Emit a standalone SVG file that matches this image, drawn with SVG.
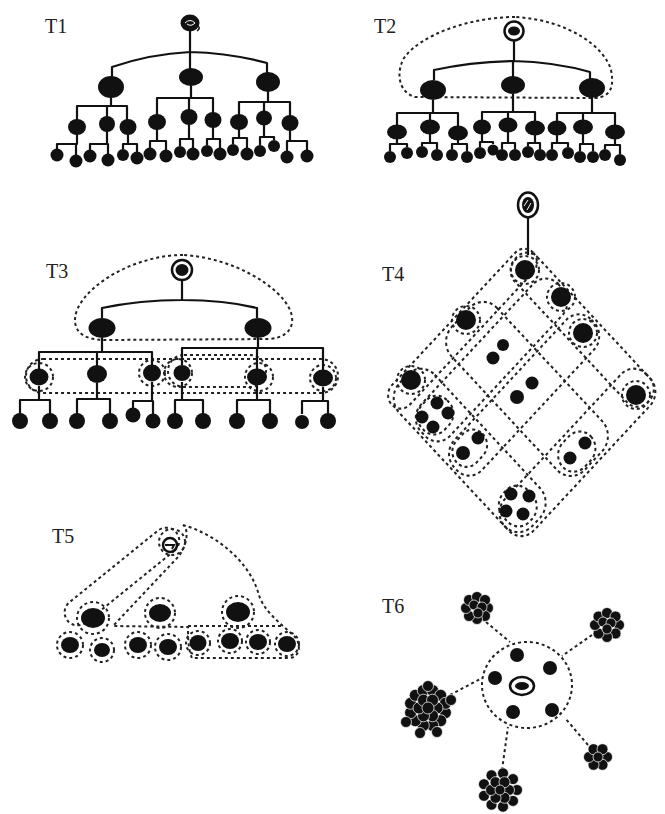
<svg xmlns="http://www.w3.org/2000/svg" width="665" height="814" viewBox="0 0 665 814">
<style>
.lbl{font-family:"Liberation Serif","Times New Roman",serif;font-size:20px;fill:#222}
.e{stroke:#111;stroke-width:2.2;fill:none;stroke-linejoin:round}
.d{stroke:#222;stroke-width:2;fill:none;stroke-dasharray:3 3}
.n{fill:#111}
.ring{fill:#fff;stroke:#111;stroke-width:2.5}
.cl circle{fill:#111;stroke:#fff;stroke-width:0.7}
</style>
<rect width="665" height="814" fill="#fff"/>

<!-- labels -->
<g id="labels">
<text class="lbl" x="45" y="33">T1</text>
<text class="lbl" x="374" y="33">T2</text>
<text class="lbl" x="46" y="278">T3</text>
<text class="lbl" x="382" y="281">T4</text>
<text class="lbl" x="52" y="543">T5</text>
<text class="lbl" x="382" y="613">T6</text>
</g>

<!-- ===== T1 ===== -->
<g id="t1-connectors" class="e">
<path d="M190,31 V52 M112,79 V67 Q150,54 190,52 Q230,53 267,63 V74 M190,52 V70"/>
<path d="M111,97 V106 M77,120 V106 H127 V120 M107,106 V117"/>
<path d="M191,85 V98 M157,115 V98 H213 V113 M189,98 V110"/>
<path d="M268,91 V102 M239,115 V102 H290 V116 M264,102 V111"/>
<path d="M77,134 V144 H57 V149 M76,144 V155 M107,131 V144 M90,150 V144 H108 V154 M128,134 V144 M123,149 V144 H137 V152 M157,129 V141 M150,148 V141 H166 V150 M189,124 V139 M180,146 V139 H193 V148 M213,127 V139 M207,145 V139 H220 V148 M239,129 V138 M233,144 V138 H247 V148 M264,125 V137 M260,145 V137 H274 V140 M290,130 V141 M287,151 V141 H307 V150"/>
</g>
<g id="t1-root"><ellipse cx="190" cy="23" rx="9.5" ry="8.5" class="n"/><path d="M185,23 q5,-5 10,0 q-4,4 -8,1" stroke="#fff" stroke-width="1" fill="none"/><path d="M198,26 q3,2 -1,5" stroke="#111" stroke-width="1.5" fill="none"/></g>
<g id="t1-l1" class="n"><ellipse id="t1-a" cx="111" cy="87" rx="13" ry="11"/><ellipse id="t1-b" cx="191" cy="77" rx="12" ry="9"/><ellipse id="t1-c" cx="268" cy="82" rx="12" ry="10"/></g>
<g id="t1-l2" class="n"><ellipse cx="77" cy="127" rx="9" ry="8"/><ellipse cx="107" cy="124" rx="8" ry="8"/><ellipse cx="128" cy="127" rx="8.5" ry="8"/><ellipse cx="157" cy="122" rx="9" ry="8"/><ellipse cx="189" cy="117" rx="8.5" ry="8"/><ellipse cx="213" cy="120" rx="8.5" ry="8"/><ellipse cx="239" cy="122" rx="9" ry="8"/><ellipse cx="264" cy="118" rx="8" ry="7.5"/><ellipse cx="290" cy="123" rx="8.5" ry="8"/></g>
<g id="t1-leaves" class="n"><circle cx="57" cy="155" r="6.5"/><circle cx="76" cy="161" r="6.5"/><circle cx="90" cy="156" r="6.5"/><circle cx="108" cy="160" r="6.5"/><circle cx="123" cy="155" r="6"/><circle cx="137" cy="158" r="6.5"/><circle cx="150" cy="154" r="6.5"/><circle cx="166" cy="156" r="6.5"/><circle cx="180" cy="152" r="6"/><circle cx="193" cy="154" r="6.5"/><circle cx="207" cy="151" r="6"/><circle cx="220" cy="154" r="6.5"/><circle cx="233" cy="150" r="6"/><circle cx="247" cy="154" r="6.5"/><circle cx="260" cy="151" r="6"/><circle cx="274" cy="146" r="6"/><circle cx="287" cy="157" r="6.5"/><circle cx="307" cy="156" r="6.5"/></g>

<!-- ===== T2 ===== -->
<g id="t2-connectors">
<path class="d" d="M515,17 C470,17 420,35 404,58 C396,72 398,92 415,97 L595,98 C612,97 614,85 611,70 C605,48 570,20 515,17 Z"/>
<g class="e">
<path d="M514,41 V61 M434,80 V70 Q470,62 513,61 Q555,62 590,72 V80 M513,61 V77"/>
<path d="M433,100 V113 M397,125 V113 H458 V126 M430,113 V120"/>
<path d="M513,94 V112 M482,120 V112 H535 V121 M508,112 V118"/>
<path d="M592,98 V113 M557,121 V113 H615 V125 M583,113 V120"/>
<path d="M397,139 V144 M390,151 V144 H407 V147 M430,134 V143 M422,146 V143 H437 V149 M458,140 V144 M452,149 V144 H467 V151 M482,134 V142 M480,147 V142 H493 V144 M508,132 V143 M502,149 V143 H515 V149 M535,135 V143 M528,146 V143 H540 V149 M557,135 V143 M552,149 V143 H568 V147 M583,134 V144 M580,151 V144 H593 V151 M615,139 V145 M605,149 V145 H620 V154"/>
</g>
</g>
<g id="t2-root"><circle cx="514" cy="31" r="9.5" class="ring"/><ellipse cx="514" cy="31" rx="6" ry="4.5" class="n"/></g>
<g id="t2-l1" class="n"><ellipse cx="433" cy="90" rx="13" ry="10"/><ellipse cx="513" cy="85" rx="12" ry="9"/><ellipse cx="592" cy="88" rx="13" ry="10"/></g>
<g id="t2-l2" class="n"><ellipse cx="397" cy="132" rx="10" ry="7.5"/><ellipse cx="430" cy="127" rx="10" ry="7.5"/><ellipse cx="458" cy="133" rx="10" ry="7.5"/><ellipse cx="482" cy="127" rx="9" ry="7.5"/><ellipse cx="508" cy="125" rx="9.5" ry="7.5"/><ellipse cx="535" cy="128" rx="10" ry="7.5"/><ellipse cx="557" cy="128" rx="9.5" ry="7.5"/><ellipse cx="583" cy="127" rx="10" ry="7.5"/><ellipse cx="615" cy="132" rx="10" ry="7.5"/></g>
<g id="t2-leaves" class="n"><circle cx="390" cy="157" r="6"/><circle cx="407" cy="153" r="6"/><circle cx="422" cy="152" r="6"/><circle cx="437" cy="155" r="6"/><circle cx="452" cy="155" r="6"/><circle cx="467" cy="157" r="6"/><circle cx="480" cy="153" r="6"/><circle cx="493" cy="150" r="5.5"/><circle cx="502" cy="155" r="6"/><circle cx="515" cy="155" r="6"/><circle cx="528" cy="152" r="6"/><circle cx="540" cy="155" r="6"/><circle cx="552" cy="155" r="6"/><circle cx="568" cy="153" r="6"/><circle cx="580" cy="157" r="6"/><circle cx="593" cy="157" r="6"/><circle cx="605" cy="155" r="6"/><circle cx="620" cy="160" r="6"/></g>

<!-- ===== T3 ===== -->
<g id="t3-connectors">
<g class="d">
<path d="M183,255 C140,255 90,280 77,310 C70,330 82,340 105,340 L270,339 C290,337 296,324 290,310 C280,287 235,258 183,255 Z"/>
<rect x="26" y="359" width="312" height="34" rx="17"/>
<rect x="168" y="355" width="98" height="32" rx="16"/>
<circle cx="39" cy="377" r="14"/><circle cx="152" cy="373" r="13"/><circle cx="178" cy="373" r="14"/><circle cx="259" cy="377" r="14"/><circle cx="323" cy="378" r="13"/>
</g>
<g class="e">
<path d="M182,280 V300 M102,318 V308 Q140,300 182,300 Q225,300 257,308 V318"/>
<path d="M102,338 V352 M39,369 V352 H152 V365 M97,352 V366"/>
<path d="M258,338 V348 M182,365 V348 H323 V370 M257,348 V369"/>
<path d="M39,386 V400 M20,414 V400 H50 V414 M97,383 V399 M77,414 V399 H110 V414 M152,382 V401 M133,408 V401 H153 V414 M182,382 V400 M175,414 V400 H203 V414 M257,386 V400 M237,414 V400 H270 V414 M323,387 V401 M302,414 V401 H328 V414"/>
</g>
</g>
<g id="t3-root"><circle cx="182" cy="270" r="10" class="ring"/><ellipse cx="182" cy="270" rx="6.5" ry="6" class="n"/></g>
<g id="t3-l1" class="n"><ellipse cx="102" cy="328" rx="13.5" ry="10"/><ellipse cx="258" cy="328" rx="13.5" ry="10"/></g>
<g id="t3-l2" class="n"><ellipse cx="39" cy="377" rx="9.5" ry="8.5"/><ellipse cx="97" cy="374" rx="10" ry="9"/><ellipse cx="152" cy="373" rx="9" ry="8.5"/><ellipse cx="182" cy="373" rx="8.5" ry="8"/><ellipse cx="257" cy="377" rx="10" ry="8.5"/><ellipse cx="323" cy="378" rx="10" ry="8.5"/></g>
<g id="t3-leaves" class="n"><circle cx="20" cy="421" r="8"/><circle cx="50" cy="421" r="8"/><circle cx="77" cy="421" r="8"/><circle cx="110" cy="421" r="8"/><circle cx="133" cy="415" r="7.5"/><circle cx="153" cy="421" r="7.5"/><circle cx="175" cy="421" r="8"/><circle cx="203" cy="421" r="8"/><circle cx="237" cy="421" r="8"/><circle cx="270" cy="421" r="8"/><circle cx="302" cy="422" r="7"/><circle cx="328" cy="421" r="8"/></g>

<!-- ===== T4 ===== -->
<g id="t4-connectors">
<path class="e" d="M528,217 V255"/>
<g class="d" transform="matrix(0.6925 0.745 -0.7075 0.76 524.25 243)">
<rect x="0" y="0" width="26" height="200" rx="13"/>
<rect x="34" y="3" width="42" height="194" rx="18"/>
<rect x="82" y="3" width="40" height="194" rx="18"/>
<rect x="158" y="0" width="42" height="200" rx="18"/>
<rect x="4" y="0" width="192" height="32" rx="15"/>
<rect x="4" y="62" width="192" height="64" rx="20"/>
<rect x="4" y="150" width="192" height="50" rx="20"/>
<rect x="162" y="80" width="32" height="40" rx="16"/>
<rect x="35" y="158" width="33" height="36" rx="15"/>
<rect x="84" y="155" width="29" height="37" rx="14"/>
<rect x="153" y="160" width="38" height="35" rx="16"/>
</g>
<g class="d"><circle cx="525" cy="270" r="14"/><circle cx="561" cy="297" r="14"/><circle cx="583" cy="333" r="14"/><circle cx="636" cy="395" r="14"/><circle cx="466" cy="320" r="14"/><circle cx="411" cy="380" r="14"/></g>
</g>
<g id="t4-root"><ellipse cx="528" cy="205" rx="10" ry="12.5" class="ring"/><ellipse cx="528" cy="205" rx="6" ry="8" class="n"/><path d="M524,206 l4,-6 M527,210 l4,-7" stroke="#fff" stroke-width="1"/></g>
<g id="t4-singles" class="n"><circle cx="525" cy="270" r="10"/><circle cx="561" cy="297" r="10"/><circle cx="583" cy="333" r="10"/><circle cx="636" cy="395" r="10"/><circle cx="466" cy="320" r="10"/><circle cx="411" cy="380" r="10"/></g>
<g id="t4-groups" class="n">
<circle cx="493" cy="358" r="6.5"/><circle cx="503" cy="345" r="6"/>
<circle cx="517" cy="397" r="7"/><circle cx="532" cy="383" r="6.5"/>
<circle cx="570" cy="458" r="6.5"/><circle cx="585" cy="443" r="6.5"/>
<circle cx="463" cy="453" r="7"/><circle cx="478" cy="438" r="6.5"/>
<circle cx="437" cy="403" r="6.5"/><circle cx="422" cy="417" r="6.5"/><circle cx="448" cy="413" r="6.5"/><circle cx="433" cy="427" r="6.5"/>
<circle cx="511" cy="494" r="6.5"/><circle cx="529" cy="496" r="6.5"/><circle cx="506" cy="511" r="6.5"/><circle cx="523" cy="514" r="6.5"/>
</g>

<!-- ===== T5 ===== -->
<g id="t5-connectors" class="d">
<rect x="-12" y="-13" width="140" height="26" rx="13" transform="translate(167,540) rotate(141)"/>
<path d="M183,525 C215,534 248,560 258,592 C263,612 282,624 296,638 C302,648 298,657 290,658 L192,658 C188,650 188,635 188,627 L113,626 L178,557 C186,548 190,530 183,525 Z"/>
<path d="M188,626 L282,626"/>
<circle cx="172" cy="542" r="13"/>
<circle cx="93" cy="618" r="16"/><circle cx="160" cy="613" r="15"/><circle cx="238" cy="612" r="16"/>
<circle cx="70" cy="645" r="13"/><circle cx="102" cy="650" r="12"/><circle cx="138" cy="645" r="13"/><circle cx="168" cy="647" r="13"/><circle cx="198" cy="643" r="12"/><circle cx="230" cy="641" r="12"/><circle cx="258" cy="642" r="12"/><circle cx="287" cy="644" r="12"/>
</g>
<g id="t5-root"><circle cx="170" cy="545" r="7" fill="#fff" stroke="#111" stroke-width="2.5"/><path d="M165,545 h9 l-2,4" stroke="#111" stroke-width="2" fill="none"/></g>
<g id="t5-l1" class="n"><ellipse cx="93" cy="618" rx="12" ry="10"/><ellipse cx="160" cy="613" rx="11" ry="9"/><ellipse cx="238" cy="612" rx="12" ry="10"/></g>
<g id="t5-l2" class="n"><ellipse cx="70" cy="645" rx="9" ry="8"/><ellipse cx="102" cy="650" rx="8" ry="7"/><ellipse cx="138" cy="645" rx="9" ry="8"/><ellipse cx="168" cy="647" rx="9" ry="8"/><ellipse cx="198" cy="643" rx="8.5" ry="8"/><ellipse cx="230" cy="641" rx="9" ry="8"/><ellipse cx="258" cy="642" rx="9" ry="8"/><ellipse cx="287" cy="644" rx="9" ry="8"/></g>

<!-- ===== T6 ===== -->
<g id="t6-connectors" class="d">
<ellipse cx="527" cy="685" rx="45" ry="43"/>
<path d="M486,622 L510,642"/>
<path d="M592,635 L562,656"/>
<path d="M450,695 L482,678"/>
<path d="M588,745 L565,718"/>
<path d="M502,770 L508,727"/>
</g>
<g id="t6-center"><ellipse cx="522" cy="686" rx="12" ry="9" class="ring"/><ellipse cx="522" cy="686" rx="7" ry="4" class="n"/></g>
<g id="t6-inner" class="n"><circle cx="517" cy="655" r="7"/><circle cx="550" cy="668" r="7"/><circle cx="495" cy="678" r="7"/><circle cx="513" cy="712" r="7"/><circle cx="552" cy="710" r="7"/></g>
<g id="t6-cluster-tl" class="cl"><circle cx="488" cy="608" r="5.5"/><circle cx="485" cy="616" r="5.5"/><circle cx="477" cy="619" r="5.5"/><circle cx="469" cy="616" r="5.5"/><circle cx="466" cy="608" r="5.5"/><circle cx="469" cy="600" r="5.5"/><circle cx="477" cy="597" r="5.5"/><circle cx="485" cy="600" r="5.5"/><circle cx="474" cy="605" r="5"/><circle cx="482" cy="607" r="5"/><circle cx="478" cy="613" r="5"/></g>
<g id="t6-cluster-tr" class="cl"><circle cx="619" cy="625" r="5.5"/><circle cx="615.5" cy="633.5" r="5.5"/><circle cx="607" cy="637" r="5.5"/><circle cx="598.5" cy="633.5" r="5.5"/><circle cx="595" cy="625" r="5.5"/><circle cx="598.5" cy="616.5" r="5.5"/><circle cx="607" cy="613" r="5.5"/><circle cx="615.5" cy="616.5" r="5.5"/><circle cx="603" cy="622" r="5"/><circle cx="611" cy="623" r="5"/><circle cx="607" cy="629" r="5"/></g>
<g id="t6-cluster-l" class="cl"><circle cx="445.4" cy="712.7" r="6"/><circle cx="440.7" cy="720.7" r="6"/><circle cx="432.7" cy="725.4" r="6"/><circle cx="423.3" cy="725.4" r="6"/><circle cx="415.3" cy="720.7" r="6"/><circle cx="410.6" cy="712.7" r="6"/><circle cx="410.6" cy="703.3" r="6"/><circle cx="415.3" cy="695.3" r="6"/><circle cx="423.3" cy="690.6" r="6"/><circle cx="432.7" cy="690.6" r="6"/><circle cx="440.7" cy="695.3" r="6"/><circle cx="445.4" cy="703.3" r="6"/><circle cx="406" cy="722" r="5.5"/><circle cx="420" cy="733" r="5.5"/><circle cx="437" cy="732" r="5.5"/><circle cx="451" cy="700" r="5.5"/><circle cx="428" cy="686" r="5.5"/><circle cx="437" cy="708" r="6"/><circle cx="432.5" cy="715.8" r="6"/><circle cx="423.5" cy="715.8" r="6"/><circle cx="419" cy="708" r="6"/><circle cx="423.5" cy="700.2" r="6"/><circle cx="432.5" cy="700.2" r="6"/><circle cx="428" cy="708" r="6"/></g>
<g id="t6-cluster-br" class="cl"><circle cx="607" cy="757" r="5.5"/><circle cx="602.5" cy="764.8" r="5.5"/><circle cx="593.5" cy="764.8" r="5.5"/><circle cx="589" cy="757" r="5.5"/><circle cx="593.5" cy="749.2" r="5.5"/><circle cx="602.5" cy="749.2" r="5.5"/><circle cx="598" cy="757" r="5"/></g>
<g id="t6-cluster-b" class="cl"><circle cx="517" cy="790" r="5.5"/><circle cx="513" cy="800.9" r="5.5"/><circle cx="503" cy="806.7" r="5.5"/><circle cx="491.5" cy="804.7" r="5.5"/><circle cx="484" cy="795.8" r="5.5"/><circle cx="484" cy="784.2" r="5.5"/><circle cx="491.5" cy="775.3" r="5.5"/><circle cx="503" cy="773.3" r="5.5"/><circle cx="513" cy="779.1" r="5.5"/><circle cx="509" cy="790" r="5.5"/><circle cx="504.5" cy="797.8" r="5.5"/><circle cx="495.5" cy="797.8" r="5.5"/><circle cx="491" cy="790" r="5.5"/><circle cx="495.5" cy="782.2" r="5.5"/><circle cx="504.5" cy="782.2" r="5.5"/><circle cx="500" cy="790" r="5"/></g>
</svg>
